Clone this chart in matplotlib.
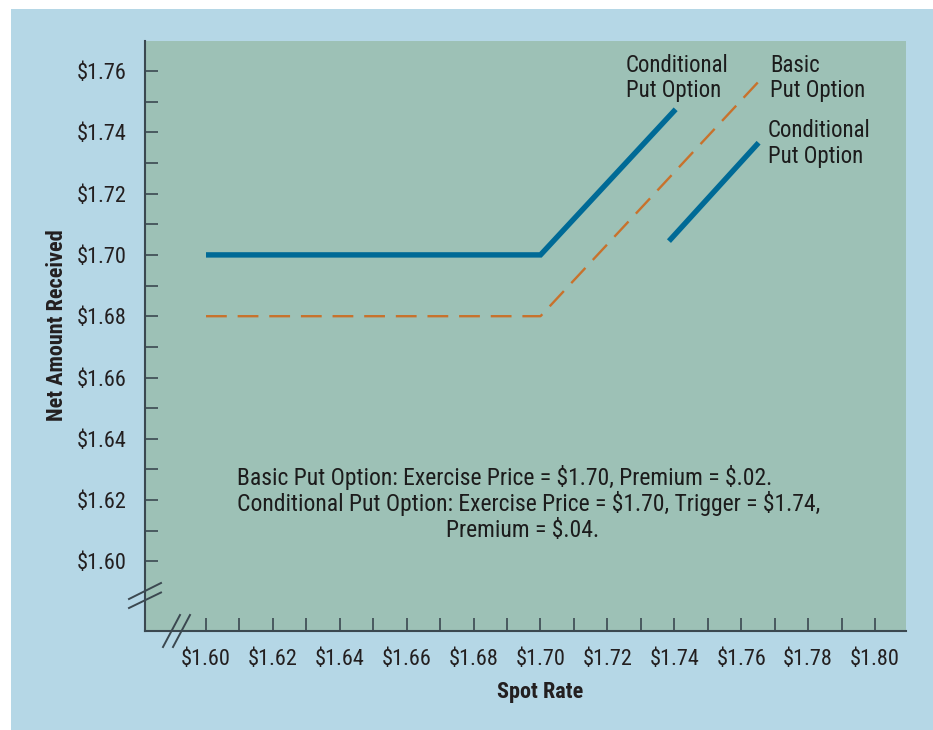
import matplotlib
matplotlib.use("Agg")
import matplotlib.pyplot as plt
from matplotlib.lines import Line2D
from matplotlib.patches import Rectangle
from matplotlib.ticker import FixedLocator, FuncFormatter

# ---- data ----
cond_x1 = [1.60, 1.70, 1.7404]
cond_y1 = [1.70, 1.70, 1.7475]
cond_x2 = [1.7384, 1.7652]
cond_y2 = [1.7045, 1.7366]
basic_x = [1.60, 1.70, 1.7661]
basic_y = [1.68, 1.68, 1.7576]
x_major = [1.60, 1.62, 1.64, 1.66, 1.68, 1.70, 1.72, 1.74, 1.76, 1.78, 1.80]
x_minor = [1.61, 1.63, 1.65, 1.67, 1.69, 1.71, 1.73, 1.75, 1.77, 1.79]
y_major = [1.60, 1.62, 1.64, 1.66, 1.68, 1.70, 1.72, 1.74, 1.76]
y_minor = [1.61, 1.63, 1.65, 1.67, 1.69, 1.71, 1.73, 1.75]
note_lines = ["Basic Put Option: Exercise Price = $1.70, Premium = $.02.",
              "Conditional Put Option: Exercise Price = $1.70, Trigger = $1.74,",
              "Premium = $.04."]

plt.rcParams['font.family'] = ['Roboto Condensed', 'DejaVu Sans']
plt.rcParams['text.parse_math'] = False

W, H = 933, 730
fig = plt.figure(figsize=(W/100, H/100), dpi=100)
fig.patch.set_facecolor("white")

def fx(px): return px / W
def fy(py): return 1 - py / H

# outer panel
bg = fig.add_axes([0, 0, 1, 1], zorder=-10)
bg.set_xlim(0, W); bg.set_ylim(H, 0); bg.axis("off")
bg.add_patch(Rectangle((11, 9), W - 11, H - 9, facecolor="#b5d7e6", edgecolor="none"))

ax = fig.add_axes([fx(145), fy(631), fx(906) - fx(145), fy(41) - fy(631)])
ax.set_facecolor("#9dc1b6")

BLUE = "#006a96"
ORANGE = "#c8722c"
ax.plot(cond_x1, cond_y1, color=BLUE, lw=3.9, solid_capstyle="butt", solid_joinstyle="miter")
ax.plot(cond_x2, cond_y2, color=BLUE, lw=3.9, solid_capstyle="butt")
ax.plot(basic_x, basic_y, color=ORANGE, lw=1.7, dashes=(8.8, 4.6))

# axis scale: x 1.60 at px206, 0.01 per 33.45px; y 1.76 at px71, 0.02 per 61.3px
x0 = 1.60 - (206 - 145) / 3345
x1 = 1.60 + (906 - 206) / 3345
y1 = 1.76 + (71 - 41) / 3065
y0 = 1.76 - (631 - 71) / 3065
ax.set_xlim(x0, x1)
ax.set_ylim(y0, y1)

SP = "#3b4850"
for s in ["top", "right"]:
    ax.spines[s].set_visible(False)
for s in ["left", "bottom"]:
    ax.spines[s].set_color(SP)
    ax.spines[s].set_linewidth(1.5)

ax.xaxis.set_major_locator(FixedLocator(x_major))
ax.xaxis.set_minor_locator(FixedLocator(x_minor))
ax.yaxis.set_major_locator(FixedLocator(y_major))
ax.yaxis.set_minor_locator(FixedLocator(y_minor))
fmt = FuncFormatter(lambda v, p: f"${v:.2f}")
ax.xaxis.set_major_formatter(fmt)
ax.yaxis.set_major_formatter(fmt)

ax.tick_params(which="both", direction="in", length=9.4, width=1.2, color=SP)
ax.tick_params(which="major", labelsize=16, labelcolor="#231f20", pad=13)

ax.set_xlabel("Spot Rate", fontsize=16, fontweight="bold", color="#231f20")
ax.set_ylabel("Net Amount Received", fontsize=16, fontweight="bold", color="#231f20")
ax.xaxis.set_label_coords((540 - 145) / (906 - 145), -(692 - 631) / (631 - 41))
ax.xaxis.label.set_va("center")
ax.yaxis.set_label_coords(-(145 - 57) / (906 - 145), (631 - 325) / (631 - 41))
ax.yaxis.label.set_va("center")

TC = "#1c1c1c"
kw = dict(fontsize=16.5, color=TC, va="baseline", ha="left")
for x, y, s in [(626, 72, "Conditional"), (626, 97.5, "Put Option"),
                (770, 72, "Basic"), (770, 97.5, "Put Option"),
                (768, 137, "Conditional"), (768, 162.5, "Put Option")]:
    fig.text(fx(x), fy(y), s, **kw)

nk = dict(fontsize=17, color=TC, va="baseline")
fig.text(fx(237), fy(485), note_lines[0], ha="left", **nk)
fig.text(fx(237), fy(511), note_lines[1], ha="left", **nk)
fig.text(fx(523), fy(537), note_lines[2], ha="center", **nk)

# axis break marks (drawn above the plot area)
for (a, b, c, d) in [(129, 599, 161, 583), (129, 608, 161, 592.5),
                     (163, 647, 180, 615), (173, 647, 190, 615)]:
    fig.add_artist(Line2D([fx(a), fx(c)], [fy(b), fy(d)], transform=fig.transFigure,
                          color=SP, lw=1.4, zorder=10))

fig.savefig("out.png", dpi=100, facecolor=fig.get_facecolor())
